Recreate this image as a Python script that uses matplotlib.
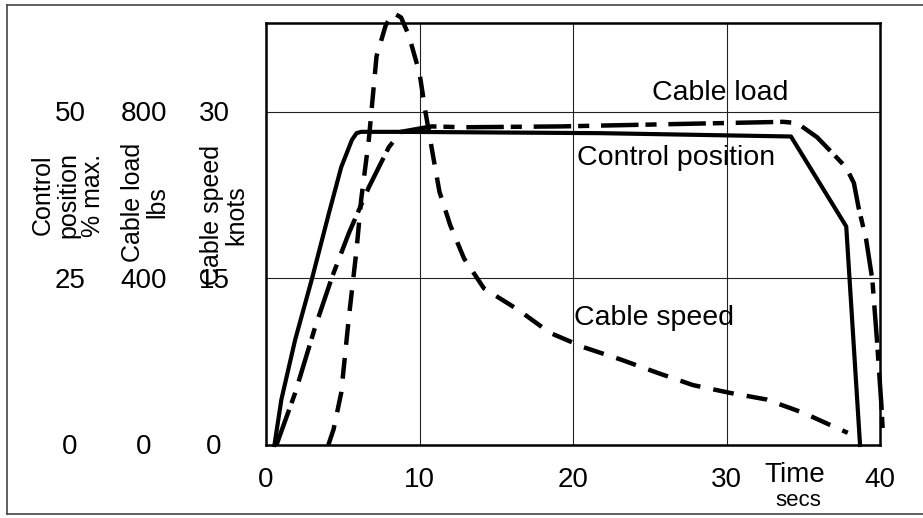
import matplotlib
matplotlib.use("Agg")
import matplotlib.pyplot as plt
from matplotlib import transforms
from matplotlib.lines import Line2D

plt.rcParams["font.family"] = "Liberation Sans"
plt.rcParams["lines.scale_dashes"] = False

# Control position, % of max
ctrl_time = [0.55, 1.0, 1.9, 3.0, 4.1, 4.9, 5.6, 5.9, 6.2, 8.6, 21.8, 34.2, 37.8, 38.7]
ctrl_pct = [0, 6.8, 15.8, 25.0, 34.8, 41.7, 45.8, 46.8, 47.0, 47.0, 46.8, 46.3, 32.8, 0]

# Cable load, lbs
load_time = [0.68, 1.9, 3.2, 4.3, 5.4, 6.7, 8.0, 8.8, 10.8, 12.9, 19.2, 33.7, 34.6,
             35.9, 36.9, 37.8, 38.3, 38.6, 39.1, 39.5, 39.8, 40.1, 40.2]
load_lbs = [0, 125, 283, 403, 509, 619, 715, 752, 765, 763, 765, 776, 773,
            739, 701, 666, 629, 571, 493, 397, 253, 91, 19]

# Cable speed, knots
speed_time = [4.06, 4.4, 4.9, 5.4, 5.9, 6.2, 6.7, 7.0, 7.2, 7.8, 8.3, 8.8, 9.3, 10.0,
              10.4, 10.9, 11.3, 12.0, 12.9, 14.2, 16.4, 18.5, 20.7, 23.1, 25.5,
              27.8, 30.2, 32.6, 35.0, 37.4, 37.9]
speed_kn = [0, 1.4, 4.7, 11.5, 17.6, 22.1, 27.5, 32.0, 35.0, 37.8, 38.9, 38.5, 36.9, 33.5,
            29.9, 25.9, 22.8, 19.8, 16.8, 14.1, 12.2, 10.1, 8.8, 7.7, 6.5,
            5.4, 4.7, 4.1, 2.9, 1.4, 1.1]

x_ticks = [0, 10, 20, 30, 40]
# left-hand scales: (control %, load lbs, speed knots) sharing one axis
pct_ticks = ["0", "25", "50"]
lbs_ticks = ["0", "400", "800"]
kn_ticks = ["0", "15", "30"]
kn_levels = [0, 15, 30]

# everything is plotted on the knots scale: 30 kn = 50 % = 800 lbs
ctrl_kn = [p * 30 / 50 for p in ctrl_pct]
load_kn = [l * 30 / 800 for l in load_lbs]

W, H = 923, 518
fig = plt.figure(figsize=(W / 100, H / 100), dpi=100)
ax = fig.add_axes([266 / W, 1 - 445 / H, (880 - 266) / W, (445 - 23) / H])

ax.plot(ctrl_time, ctrl_kn, color="black", lw=3.0, clip_on=False,
        solid_joinstyle="round")
ax.plot(load_time, load_kn, color="black", lw=3.2, clip_on=False,
        dashes=(27, 5, 8, 8.5))
ax.plot(speed_time, speed_kn, color="black", lw=3.2, clip_on=False,
        dashes=(15, 9.5))

ax.set_xlim(0, 40)
ax.set_ylim(0, 38.0)

for x in x_ticks[1:-1]:
    ax.axvline(x, color="#222222", lw=0.8, zorder=0)
for y in kn_levels[1:]:
    ax.axhline(y, color="#222222", lw=0.8, zorder=0)

for s in ax.spines.values():
    s.set_linewidth(1.8)

ax.set_xticks(x_ticks)
ax.set_xticklabels([str(v) for v in x_ticks], fontsize=20)
ax.set_yticks([])
ax.tick_params(axis="x", length=0, pad=16)

# left tick columns
blend = transforms.blended_transform_factory(fig.transFigure, ax.transData)
for labels, xpos in [(pct_ticks, 70), (lbs_ticks, 144), (kn_ticks, 214)]:
    for lab, lev in zip(labels, kn_levels):
        ax.text(xpos / W, lev - 0.2, lab, transform=blend, fontsize=20,
                ha="center", va="center")

axis_labels = [("Control\nposition\n% max.", 68, 195),
               ("Cable load\nlbs", 145, 202),
               ("Cable speed\nknots", 224, 215)]
for txt, xp, yp in axis_labels:
    fig.text(xp / W, 1 - yp / H, txt, rotation=90, fontsize=18,
             ha="center", va="center", multialignment="center", linespacing=1.05)

# time axis caption
fig.text(795 / W, 1 - 475 / H, "Time", fontsize=20, ha="center", va="center")
fig.text(798 / W, 1 - 501 / H, "secs", fontsize=16, ha="center", va="center")

# curve names
fig.text(652 / W, 1 - 93 / H, "Cable load", fontsize=20.5, ha="left", va="center")
fig.text(577 / W, 1 - 158 / H, "Control position", fontsize=20.5, ha="left", va="center")
fig.text(574 / W, 1 - 318 / H, "Cable speed", fontsize=20.5, ha="left", va="center")

# outer frame (top, left, bottom)
frame_kw = dict(color="#444444", lw=1.2, transform=fig.transFigure)
fig.add_artist(Line2D([7 / W, 1], [1 - 4.5 / H, 1 - 4.5 / H], **frame_kw))
fig.add_artist(Line2D([7 / W, 7 / W], [1 - 4.5 / H, 1 - 514 / H], **frame_kw))
fig.add_artist(Line2D([7 / W, 1], [1 - 514 / H, 1 - 514 / H], **frame_kw))

fig.savefig("out.png", dpi=100)
